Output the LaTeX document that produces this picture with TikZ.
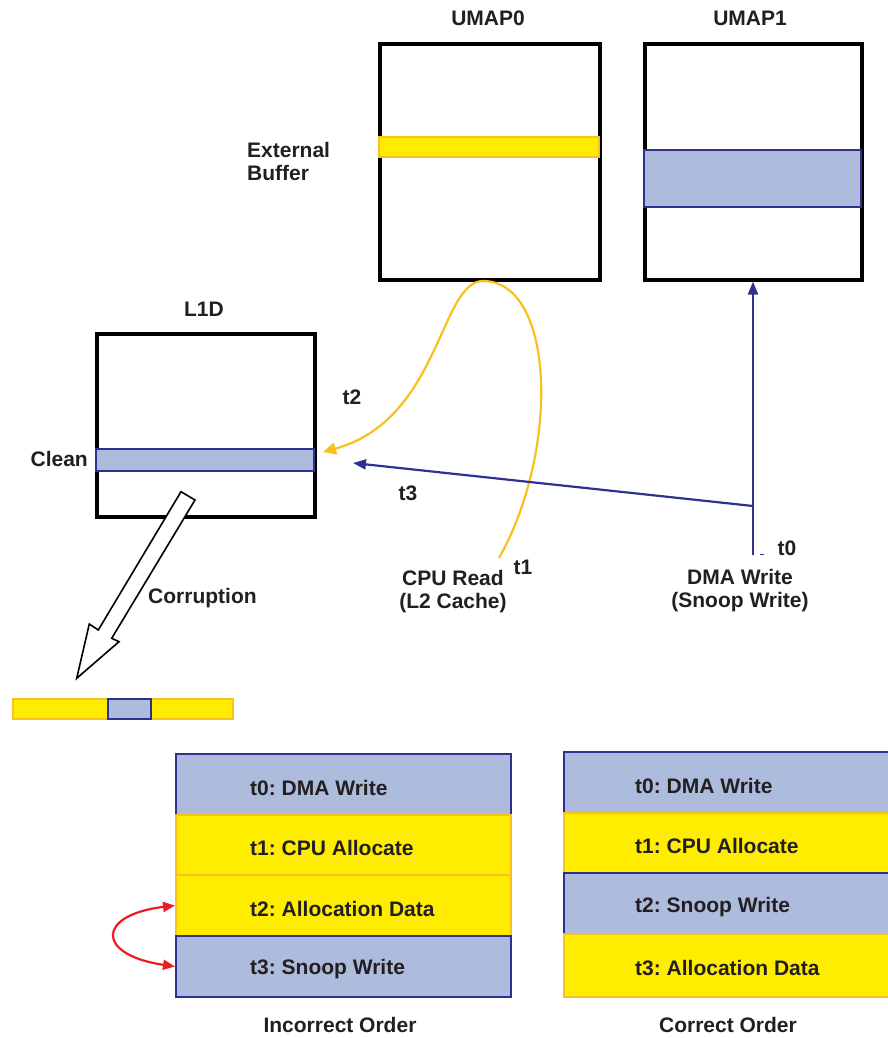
\documentclass[tikz,border=0pt]{standalone}
\usepackage{fontspec}
\setmainfont{Liberation Sans}
\usetikzlibrary{arrows.meta}
\definecolor{navy}{RGB}{46,49,146}
\definecolor{lblue}{RGB}{173,187,221}
\definecolor{yel}{RGB}{255,237,0}
\definecolor{ored}{RGB}{250,192,30}
\definecolor{txt}{RGB}{35,31,32}
\definecolor{arrred}{RGB}{237,28,36}
\frenchspacing
\begin{document}
\begin{tikzpicture}[x=1pt,y=-1pt,
  lbl/.style={font=\fontsize{21}{23}\selectfont\bfseries, text=txt, inner sep=0pt},
  membox/.style={draw=black, line width=3.6pt, inner sep=0pt, anchor=north west},
  bluebar/.style={draw=navy, fill=lblue, line width=1.6pt, inner sep=0pt, anchor=north west},
  yelbar/.style={draw=ored, fill=yel, line width=1.6pt, inner sep=0pt, anchor=north west},
  bluerow/.style={draw=navy, fill=lblue, line width=2pt, inner sep=0pt, anchor=north west},
  yelrow/.style={draw=ored, fill=yel, line width=2pt, inner sep=0pt, anchor=north west},
  yarrow/.style={draw=ored, line width=2.2pt, -{Triangle[length=13pt,width=12pt]}},
  barrow/.style={draw=navy, line width=2.2pt, -{Triangle[length=13pt,width=10pt]}},
  rarrow/.style={draw=arrred, line width=2.2pt, {Triangle[length=12pt,width=10pt]}-{Triangle[length=12pt,width=10pt]}}
]
\clip (0,0) rectangle (888,1038);
\fill[white] (0,0) rectangle (888,1038);

% memory boxes
\node[membox, minimum width=220pt, minimum height=236pt] (umap0) at (378,42) {};
\node[yelbar, minimum width=220pt, minimum height=20pt] (ebuf) at (378,136) {};
\node[membox, minimum width=217pt, minimum height=236pt] (umap1) at (643,42) {};
\node[bluebar, minimum width=217pt, minimum height=57pt] (ubar) at (643,149) {};
\node[membox, minimum width=218pt, minimum height=183pt] (l1d) at (95,332) {};
\node[bluebar, minimum width=218pt, minimum height=22pt] (cbar) at (95,448) {};

% labels
\node[lbl] (lumap0) at (488,18) {UMAP0};
\node[lbl] (lumap1) at (750,18) {UMAP1};
\node[lbl] (ll1d) at (204,309) {L1D};
\node[lbl, anchor=west, align=left] (lext) at (247,161) {External\\Buffer};
\node[lbl, anchor=east] (lclean) at (88,459) {Clean};
\node[lbl, anchor=west] (lcorr) at (148,598) {Corruption};
\node[lbl] (lt2) at (352,397) {t2};
\node[lbl] (lt3) at (408,493) {t3};
\node[lbl] (lt1) at (523,567) {t1};
\node[lbl] (lt0) at (787,548) {t0};
\node[lbl, align=center] (lcpu) at (453,592) {CPU Read\\(L2 Cache)};
\node[lbl, align=center] (ldma) at (740,591) {DMA Write\\(Snoop Write)};

% yellow CPU read curve
\coordinate (cpustart) at (499,558);
\coordinate (cputop) at (483,281);
\coordinate (cputip) at (323,452);
\draw[ored, line width=2.2pt] (cpustart) .. controls (560,450) and (555,281) .. (cputop);
\draw[yarrow] (cputop) .. controls (440,281) and (440,420) .. (cputip);

% blue DMA write
\coordinate (dmastart) at (753,555);
\coordinate (dmajoin) at (753,506);
\coordinate (dmatip) at (353,463);
\draw[barrow] (dmastart) -- (dmastart |- umap1.south);
\draw[barrow] (dmajoin) -- (dmatip);
\draw[navy, line width=1pt] (760,554) -- (764,554);

% corruption arrow
\draw[black, line width=1.6pt, fill=white, line join=miter]
  (181,491.7) -- (195,500) -- (111.7,638.3) -- (119,641.7) -- (76.7,678.3)
  -- (89.3,624) -- (98.3,630) -- cycle;

% corrupted line
\node[yelbar, minimum width=220pt, minimum height=20pt] (cline) at (12,698) {};
\node[bluebar, minimum width=43pt, minimum height=20pt] (cseg) at (107,698) {};

% incorrect order table
\node[bluerow, minimum width=335pt, minimum height=61pt] (ia) at (175,753) {};
\node[yelrow, minimum width=335pt, minimum height=61pt] (ib) at (175,814) {};
\node[yelrow, minimum width=335pt, minimum height=61pt] (ic) at (175,874) {};
\node[bluerow, minimum width=335pt, minimum height=61pt] (id) at (175,935) {};
\node[lbl, anchor=west] at (250,788) {t0: DMA Write};
\node[lbl, anchor=west] at (250,848) {t1: CPU Allocate};
\node[lbl, anchor=west] at (250,909) {t2: Allocation Data};
\node[lbl, anchor=west] at (250,969) {t3: Snoop Write};
\node[lbl] (linc) at (340,1025) {Incorrect Order};
\draw[rarrow] (ic.west) .. controls (96,915) and (96,955) .. (id.west);

% correct order table
\node[bluerow, minimum width=335pt, minimum height=61pt] (ca) at (563,751) {};
\node[yelrow, minimum width=335pt, minimum height=61pt] (cb) at (563,812) {};
\node[bluerow, minimum width=335pt, minimum height=61pt] (cc) at (563,872) {};
\node[yelrow, minimum width=335pt, minimum height=63pt] (cd) at (563,933) {};
\node[lbl, anchor=west] at (635,786) {t0: DMA Write};
\node[lbl, anchor=west] at (635,846) {t1: CPU Allocate};
\node[lbl, anchor=west] at (635,907) {t2: Snoop Write};
\node[lbl, anchor=west] at (635,968) {t3: Allocation Data};
\node[lbl] (lcor) at (728,1025) {Correct Order};
\end{tikzpicture}
\end{document}
